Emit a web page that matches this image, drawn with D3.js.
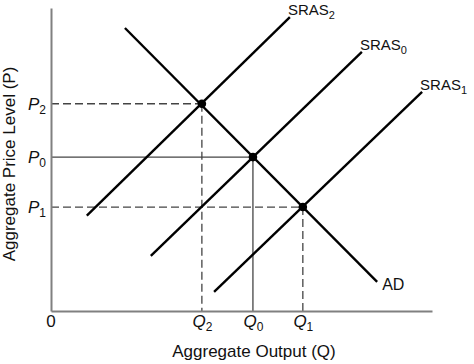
<!DOCTYPE html>
<html>
<head>
<meta charset="utf-8">
<script src="https://cdn.jsdelivr.net/npm/d3@7"></script>
<style>
  body { margin: 0; background: #fff; }
  svg { display: block; font-family: "Liberation Sans", Arial, sans-serif; }
</style>
</head>
<body>
<div id="chart-area"></div>
<script>
// equilibrium points (index 0 -> "2", 1 -> "0", 2 -> "1")
const subs = ["2", "0", "1"];
const eqQ = [39.6, 53.0, 66.1];
const eqP = [68.4, 50.8, 34.3];
// guide line style per equilibrium
const guideDashed = [true, false, true];

// curves: two end points each
const curveNames = ["SRAS", "SRAS", "SRAS", "AD"];
const curveSubs = ["2", "0", "1", ""];
const curveQ = [[9.4, 62.7], [26.2, 81.6], [42.8, 97.4], [19.4, 85.6]];
const curveP = [[31.5, 97.0], [18.2, 85.5], [6.3, 72.3], [93.4, 9.6]];

const drawChart = () => {
  const chartSize = { width: 474, height: 364 };
  const margin = { left: 51, top: 8, right: 42, bottom: 53 };
  const width = chartSize.width - margin.left - margin.right;
  const height = chartSize.height - margin.top - margin.bottom;

  const svg = d3.select("#chart-area")
    .append("svg")
    .attr("width", chartSize.width)
    .attr("height", chartSize.height);

  const g = svg.append("g")
    .attr("transform", `translate(${margin.left}, ${margin.top})`);

  const x = d3.scaleLinear().domain([0, 100]).range([0, width]);
  const y = d3.scaleLinear().domain([0, 100]).range([height, 0]);

  // guide lines to the axes
  eqQ.forEach((q, i) => {
    const dash = guideDashed[i] ? "8,4" : null;
    const col = guideDashed[i] ? "#444" : "#444";
    g.append("line")
      .attr("x1", x(0)).attr("x2", x(q))
      .attr("y1", y(eqP[i])).attr("y2", y(eqP[i]))
      .attr("stroke", col).attr("stroke-width", 1.3)
      .attr("stroke-dasharray", dash);
    g.append("line")
      .attr("x1", x(q)).attr("x2", x(q))
      .attr("y1", y(eqP[i])).attr("y2", y(0))
      .attr("stroke", col).attr("stroke-width", 1.3)
      .attr("stroke-dasharray", dash);
  });

  // axes
  const xAxis = d3.axisBottom(x).tickValues(eqQ).tickSize(0).tickSizeOuter(0).tickFormat(() => "");
  const yAxis = d3.axisLeft(y).tickValues(eqP).tickSize(0).tickSizeOuter(0).tickFormat(() => "");

  const gx = g.append("g")
    .attr("class", "x-axis")
    .attr("transform", `translate(0, ${height})`)
    .call(xAxis);
  const gy = g.append("g")
    .attr("class", "y-axis")
    .call(yAxis);

  g.selectAll(".x-axis .domain, .y-axis .domain")
    .attr("stroke", "#808080")
    .attr("stroke-width", 2);

  gx.selectAll(".tick text")
    .attr("y", 4)
    .attr("dy", "0.71em")
    .attr("font-size", 17)
    .attr("fill", "#111")
    .each(function (d, i) {
      const t = d3.select(this);
      t.append("tspan").attr("font-style", "italic").text("Q");
      t.append("tspan").attr("font-size", 12).attr("dy", 4).text(subs[i]);
    });

  gy.selectAll(".tick text")
    .attr("x", -5)
    .attr("dy", "0.32em")
    .attr("font-size", 17)
    .attr("fill", "#111")
    .each(function (d, i) {
      const t = d3.select(this);
      t.append("tspan").attr("font-style", "italic").text("P");
      t.append("tspan").attr("font-size", 12).attr("dy", 4).text(subs[i]);
    });

  g.append("text")
    .attr("x", x(0))
    .attr("y", height + 16)
    .attr("text-anchor", "middle")
    .attr("font-size", 17)
    .attr("fill", "#111")
    .text("0");

  // curves
  curveQ.forEach((qs, i) => {
    const pts = qs.map((q, j) => [x(q), y(curveP[i][j])]);
    g.append("path")
      .attr("d", d3.line()(pts))
      .attr("fill", "none")
      .attr("stroke", "#000")
      .attr("stroke-width", 2.4);

    const end = pts[1];
    const isAD = curveNames[i] === "AD";
    const lab = g.append("text")
      .attr("font-size", isAD ? 16 : 15)
      .attr("fill", "#111")
      .attr("x", isAD ? end[0] + 5 : end[0] - 2)
      .attr("y", isAD ? end[1] + 8 : end[1] - 2);
    lab.append("tspan").text(curveNames[i]);
    if (curveSubs[i]) {
      lab.append("tspan").attr("font-size", 11).attr("dy", 4).text(curveSubs[i]);
    }
  });

  // equilibrium dots
  g.selectAll(".dot")
    .data(eqQ)
    .enter()
    .append("circle")
    .attr("class", "dot")
    .attr("cx", q => x(q))
    .attr("cy", (q, i) => y(eqP[i]))
    .attr("r", 4.3)
    .attr("fill", "#000");

  // axis titles
  svg.append("text")
    .attr("x", 254)
    .attr("y", 357)
    .attr("text-anchor", "middle")
    .attr("font-size", 17)
    .attr("fill", "#111")
    .text("Aggregate Output (Q)");

  svg.append("text")
    .attr("transform", "translate(15, 164) rotate(-90)")
    .attr("text-anchor", "middle")
    .attr("font-size", 17)
    .attr("fill", "#111")
    .text("Aggregate Price Level  (P)");
};

window.onload = drawChart;
</script>
</body>
</html>
